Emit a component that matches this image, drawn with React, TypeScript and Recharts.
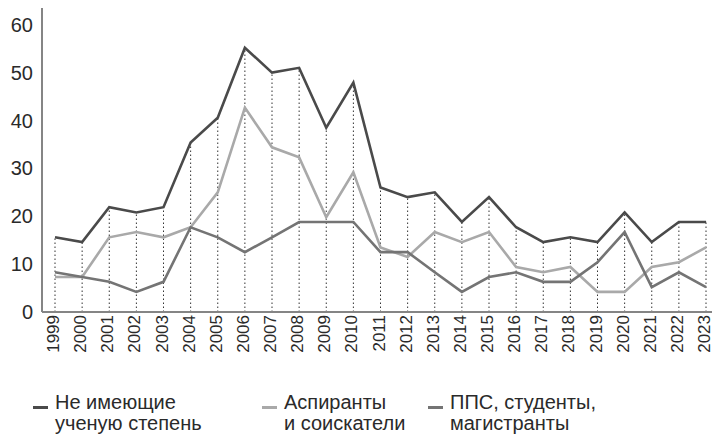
import { LineChart, Line, XAxis, YAxis, ErrorBar, Legend } from 'recharts'

const years = [
  '1999', '2000', '2001', '2002', '2003', '2004', '2005', '2006', '2007',
  '2008', '2009', '2010', '2011', '2012', '2013', '2014', '2015', '2016',
  '2017', '2018', '2019', '2020', '2021', '2022', '2023',
]

// Не имеющие ученую степень
const noDegree = [
  15.6, 14.6, 21.9, 20.8, 21.9, 35.4, 40.6, 55.2, 50, 51, 38.5, 47.9, 26,
  24, 25, 18.8, 24, 17.7, 14.6, 15.6, 14.6, 20.8, 14.6, 18.8, 18.8,
]

// Аспиранты и соискатели
const postgrads = [
  7.3, 7.3, 15.6, 16.7, 15.6, 17.7, 25, 42.7, 34.4, 32.3, 19.8, 29.2, 13.5,
  11.5, 16.7, 14.6, 16.7, 9.4, 8.3, 9.4, 4.2, 4.2, 9.4, 10.4, 13.5,
]

// ППС, студенты, магистранты
const staff = [
  8.3, 7.3, 6.3, 4.2, 6.3, 17.7, 15.6, 12.5, 15.6, 18.8, 18.8, 18.8, 12.5,
  12.5, 8.3, 4.2, 7.3, 8.3, 6.3, 6.3, 10.4, 16.7, 5.2, 8.3, 5.2,
]

const yTicks = [0, 10, 20, 30, 40, 50, 60]

const seriesInfo = [
  { key: 'noDegree', color: '#4a4a4a', lines: ['Не имеющие', 'ученую степень'], width: 229 },
  { key: 'postgrads', color: '#a9a9a9', lines: ['Аспиранты', 'и соискатели'], width: 166 },
  { key: 'staff', color: '#747474', lines: ['ППС, студенты,', 'магистранты'], width: 240 },
]

const data = years.map((year, i) => ({
  year,
  noDegree: noDegree[i],
  postgrads: postgrads[i],
  staff: staff[i],
  drop: [noDegree[i], 0],
}))

const font = "'Liberation Sans', Arial, sans-serif"

function ChartLegend() {
  return (
    <div style={{ display: 'flex', paddingLeft: 33, fontFamily: font }}>
      {seriesInfo.map((s) => (
        <div key={s.key} style={{ display: 'flex', width: s.width }}>
          <div
            style={{
              width: 15,
              height: 3,
              background: s.color,
              marginTop: 14,
              marginRight: 7,
              flexShrink: 0,
            }}
          />
          <div style={{ fontSize: 20, lineHeight: '21px', color: '#2a2a2a', whiteSpace: 'nowrap' }}>
            {s.lines.map((l) => (
              <div key={l}>{l}</div>
            ))}
          </div>
        </div>
      ))}
    </div>
  )
}

export default function App() {
  return (
    <div style={{ position: 'absolute', left: 0, top: 0, width: 712, height: 438, background: '#fff' }}>
      <LineChart
        width={712}
        height={438}
        data={data}
        margin={{ top: 8, right: 0, bottom: 4, left: 0 }}
      >
        <XAxis
          dataKey="year"
          interval={0}
          padding={{ left: 13, right: 6 }}
          height={80}
          tickLine={false}
          tickSize={0}
          tickMargin={3}
          axisLine={{ stroke: '#858585', strokeWidth: 2 }}
          angle={-90}
          textAnchor="end"
          tick={{ fontSize: 17, fill: '#2a2a2a', fontFamily: font, dx: -8 }}
        />
        <YAxis
          domain={[0, 63.5]}
          ticks={yTicks}
          width={42}
          tickLine={false}
          tickSize={0}
          tickMargin={9}
          axisLine={{ stroke: '#858585', strokeWidth: 2 }}
          tick={{ fontSize: 20, fill: '#2a2a2a', fontFamily: font }}
        />
        <Legend verticalAlign="bottom" content={() => <ChartLegend />} />
        <Line
          dataKey="noDegree"
          stroke="none"
          dot={false}
          activeDot={false}
          isAnimationActive={false}
          legendType="none"
        >
          <ErrorBar
            dataKey="drop"
            direction="y"
            width={0}
            stroke="#333"
            strokeWidth={1}
            strokeDasharray="1.5 2.5"
            isAnimationActive={false}
          />
        </Line>
        <Line
          dataKey="postgrads"
          stroke="#a9a9a9"
          strokeWidth={2.6}
          dot={false}
          isAnimationActive={false}
        />
        <Line
          dataKey="staff"
          stroke="#747474"
          strokeWidth={2.6}
          dot={false}
          isAnimationActive={false}
        />
        <Line
          dataKey="noDegree"
          stroke="#4a4a4a"
          strokeWidth={2.6}
          dot={false}
          isAnimationActive={false}
        />
      </LineChart>
    </div>
  )
}
